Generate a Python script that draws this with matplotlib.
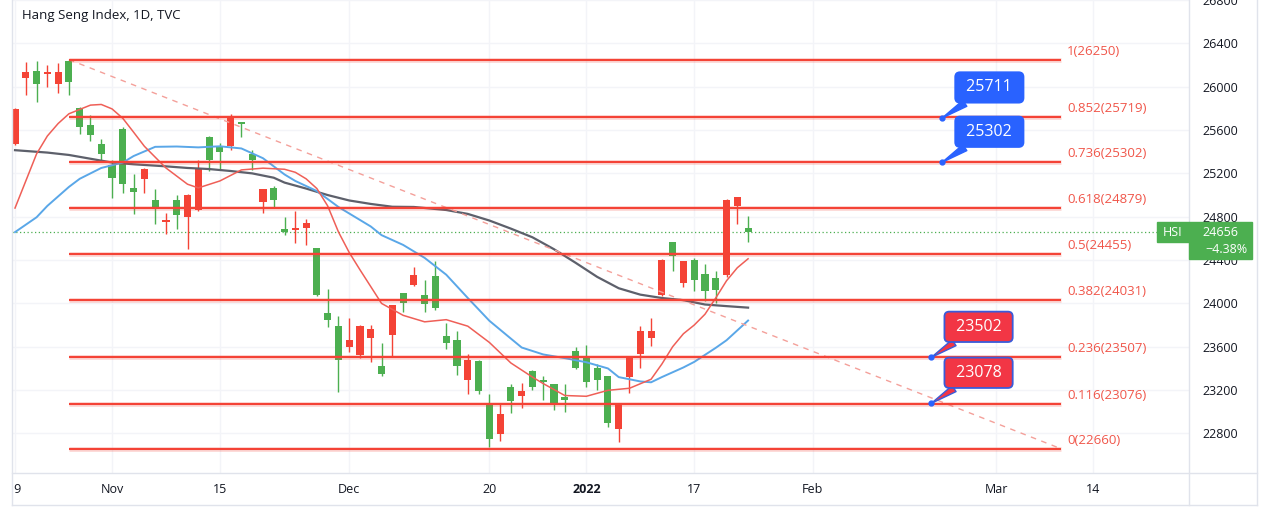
import numpy as np
import pandas as pd
import matplotlib
matplotlib.use('Agg')
import matplotlib.pyplot as plt
from matplotlib.patches import Rectangle
from matplotlib.lines import Line2D
from matplotlib.transforms import IdentityTransform, Bbox

plt.rcParams['font.family'] = ['Open Sans', 'DejaVu Sans']

# HK trading days (holidays taken out), candles run from 19 Oct 2021 to 24 Jan 2022
holidays = ['2021-12-27', '2022-02-01', '2022-02-02', '2022-02-03']
days = pd.bdate_range('2021-10-19', '2022-03-31')
days = days[~days.isin(pd.to_datetime(holidays))]

# daily OHLC
opens = [25475, 26078, 26146, 26121, 26023, 26241, 25802, 25650, 25472, 25273,
         25609, 25067, 25150, 24957, 24752, 24957, 24798, 24859, 25533, 25444,
         25457, 25674, 25380, 24937, 25062, 24690, 24681, 24699, 24510, 23912,
         23789, 23596, 23520, 23679, 23421, 23713, 24093, 24173, 24077, 24249,
         23697, 23658, 23290, 23467, 23081, 22794, 23228, 23143, 23376, 23290,
         23260, 23137, 23559, 23510, 23407, 23327, 22840, 23322, 23529, 23683,
         24078, 24568, 24188, 24400, 24276, 24234, 24262, 24899, 24694]
highs = [25800, 26225, 26241, 26201, 26216, 26250, 25810, 25742, 25517, 25328,
         25625, 25196, 25251, 25052, 24837, 25000, 25012, 25328, 25542, 25481,
         25747, 25674, 25420, 25060, 25083, 24800, 24853, 24777, 24510, 24133,
         23888, 23866, 23805, 23805, 23633, 23986, 24093, 24338, 24216, 24393,
         23817, 23750, 23529, 23474, 23161, 23081, 23253, 23265, 23388, 23327,
         23260, 23253, 23596, 23612, 23437, 23327, 23076, 23506, 23796, 23866,
         24410, 24568, 24390, 24418, 24363, 24295, 24960, 24982, 24807]
lows = [25465, 25926, 25855, 25993, 25940, 25919, 25563, 25496, 25328, 24975,
        25021, 24823, 25021, 24736, 24644, 24685, 24501, 24853, 25220, 25236,
        25420, 25533, 25227, 24834, 24878, 24630, 24562, 24540, 24069, 23780,
        23183, 23550, 23496, 23458, 23327, 23511, 23918, 24163, 23924, 23943,
        23575, 23336, 23168, 23168, 22671, 22732, 22990, 23039, 23198, 23106,
        23014, 22999, 23398, 23228, 23204, 22861, 22717, 23173, 23407, 23603,
        24070, 24301, 24154, 24117, 24019, 24001, 24240, 24736, 24571]
closes = [25793, 26140, 26023, 26133, 26140, 26041, 25628, 25558, 25380, 25159,
          25098, 25027, 25236, 24878, 24767, 24816, 24997, 25251, 25328, 25395,
          25726, 25655, 25322, 25060, 24954, 24660, 24694, 24745, 24081, 23851,
          23474, 23664, 23796, 23765, 23352, 23986, 24001, 24262, 23995, 23955,
          23636, 23419, 23480, 23192, 22748, 22975, 23100, 23189, 23229, 23274,
          23081, 23113, 23407, 23274, 23290, 22901, 23076, 23506, 23750, 23743,
          24402, 24433, 24390, 24219, 24117, 24126, 24954, 24982, 24656]

# moving averages, sampled by bar number
ma_red_days = [0, 1, 2, 3, 4, 5, 7, 8, 9, 10, 11, 12, 14, 16, 17, 19, 21, 23, 25, 26,
               27, 28, 29, 30, 31, 32, 34, 36, 38, 40, 42, 44, 46, 48, 49, 51, 53, 55,
               57, 59, 60, 61, 62, 63, 64, 65, 66, 67, 68]
ma_red = [24880, 25130, 25380, 25545, 25660, 25750, 25830, 25836, 25795, 25708,
          25580, 25450, 25250, 25100, 25066, 25130, 25232, 25248, 25238, 25210,
          25150, 25060, 24900, 24660, 24470, 24310, 24000, 23890, 23830, 23850,
          23790, 23640, 23450, 23320, 23260, 23150, 23143, 23198, 23217, 23300,
          23440, 23600, 23720, 23800, 23900, 24050, 24209, 24329, 24412]
ma_blue_days = [0, 2, 3, 5, 6, 8, 10, 11, 13, 15, 17, 19, 21, 23, 25, 26, 28, 30, 31,
                33, 34, 36, 38, 40, 42, 44, 46, 47, 49, 51, 53, 55, 56, 58, 59, 60,
                62, 63, 65, 66, 68]
ma_blue = [24658, 24795, 24900, 25075, 25150, 25250, 25300, 25360, 25445, 25448,
           25440, 25450, 25430, 25340, 25190, 25130, 25037, 24890, 24830, 24710,
           24630, 24540, 24420, 24265, 24050, 23840, 23675, 23593, 23529, 23495,
           23457, 23400, 23320, 23280, 23272, 23320, 23409, 23460, 23590, 23660,
           23842]
ma_gray_days = [0, 3, 5, 7, 9, 11, 14, 16, 18, 20, 22, 24, 25, 27, 29, 31, 33, 35, 37,
                40, 42, 44, 46, 48, 50, 52, 54, 56, 58, 60, 62, 64, 66, 68]
ma_gray = [25414, 25392, 25370, 25335, 25300, 25284, 25265, 25250, 25240, 25222,
           25200, 25160, 25115, 25060, 25000, 24950, 24918, 24892, 24890, 24862,
           24826, 24765, 24690, 24610, 24500, 24375, 24245, 24140, 24081, 24050,
           24030, 23990, 23975, 23961]

# fibonacci retracement drawn between the Oct high and a point in March
fib_ratios = ['1', '0.852', '0.736', '0.618', '0.5', '0.382', '0.236', '0.116', '0']
fib_prices = [26250, 25719, 25302, 24879, 24455, 24031, 23507, 23076, 22660]
fib_from, fib_to = '2021-10-26', '2022-03-09'

# price callouts
call_values = [25711, 25302, 23502, 23078]
call_dates = ['2022-02-22', '2022-02-22', '2022-02-21', '2022-02-21']
call_colors = ['#2962ff', '#2962ff', '#f23645', '#f23645']

last_price = 24656
last_change = '\u22124.38%'

tick_dates = ['2021-10-19', '2021-11-01', '2021-11-15', '2021-12-01', '2021-12-20',
              '2022-01-03', '2022-01-17', '2022-02-04', '2022-03-01', '2022-03-14']
tick_labels = ['19', 'Nov', '15', 'Dec', '20', '2022', '17', 'Feb', 'Mar', '14']

UP = '#f44336'
DOWN = '#4caf50'
FIB = '#f44336'
GRID = '#f3f4f8'
BORDER = '#e0e3eb'
TXT = '#131722'

W, H = 1269, 515
fig = plt.figure(figsize=(W / 100, H / 100), dpi=100)
fig.patch.set_facecolor('white')
ax = fig.add_axes([12 / W, (H - 473) / H, (1189 - 12) / W, 473 / H])
ax.set_xlim(-0.28, 108.9)
ax.set_ylim(22435, 26783)

pos = lambda d: days.get_loc(pd.Timestamp(d))

# grid
ax.set_yticks(np.arange(22800, 26801, 400))
ax.set_xticks([pos(d) for d in tick_dates])
ax.set_xticklabels(tick_labels)
ax.grid(True, color=GRID, lw=1)
ax.set_axisbelow(True)
for s in ax.spines.values():
    s.set_visible(False)
ax.yaxis.tick_right()
ax.tick_params(axis='y', length=0, pad=9.5, labelsize=9, labelcolor=TXT)
ax.tick_params(axis='x', length=0, pad=7, labelsize=9, labelcolor=TXT)
clip = Bbox.from_extents(12, 10, 1257, 515)
for lab in ax.get_xticklabels():
    lab.set_clip_on(True)
    lab.set_clip_box(clip)
    if lab.get_text() == '2022':
        lab.set_fontweight('bold')

# candles
x = np.arange(len(closes))
o = np.array(opens); c = np.array(closes)
cols = np.where(c >= o, UP, DOWN)
ax.vlines(x, lows, highs, colors=cols, lw=1, zorder=3)
body = np.maximum(np.abs(c - o), 14)
ax.bar(x, body, bottom=np.minimum(o, c), width=0.66, color=cols, lw=0, zorder=3)

# moving averages
ax.plot(ma_gray_days, ma_gray, color='#5d606b', lw=1.6, zorder=4)
ax.plot(ma_blue_days, ma_blue, color='#5aa7e8', lw=1.4, zorder=4)
ax.plot(ma_red_days, ma_red, color='#ef5f57', lw=1.1, zorder=4)

# last price line
ax.axhline(last_price, color=DOWN, lw=0.9, ls=(0, (1, 2)), zorder=2)

# fib levels + trend line
x0, x1 = pos(fib_from), pos(fib_to)
ax.plot([x0, x1], [fib_prices[0], fib_prices[-1]], color='#f4a09a', lw=1, ls=(0, (4, 4)), zorder=5)
ax.hlines(fib_prices, x0, x1, color=FIB, lw=3.4, alpha=0.22, zorder=5)
ax.hlines(fib_prices, x0, x1, color=FIB, lw=1.5, zorder=6)
for r, p in zip(fib_ratios, fib_prices):
    ax.annotate(f'{r}({p})', xy=(x1, p), xytext=(4.5, 6), textcoords='offset points',
                ha='left', va='center', fontsize=9.5, color='#f0564a', zorder=7)

# callouts
for v, d, col in zip(call_values, call_dates, call_colors):
    ec = '#2962ff' if col == '#2962ff' else '#3a5bd9'
    ax.annotate(f' {v} ', xy=(pos(d), v), xytext=(34, 22), textcoords='offset points',
                ha='center', va='center', fontsize=11.5, color='white', zorder=9,
                bbox=dict(boxstyle='round,pad=0.45,rounding_size=0.3', fc=col, ec=ec, lw=1.3),
                arrowprops=dict(arrowstyle='wedge,tail_width=0.45,shrink_factor=0.5',
                                fc=col, ec=ec, lw=1.0, shrinkA=0, shrinkB=0))
    ax.plot(pos(d), v, 'o', ms=3.5, color='#2962ff', zorder=10)

# title
ax.text(10 / 1177, 1 - 15 / 473, 'Hang Seng Index, 1D, TVC', transform=ax.transAxes,
        ha='left', va='center', fontsize=9.5, color=TXT)

# chart frame lines
I = IdentityTransform()
for xs, ys in [([12, 12], [10, H]), ([1189, 1189], [10, H]), ([1257, 1257], [10, H]),
               ([12, 1257], [10, 10]), ([12, 1257], [H - 473, H - 473])]:
    fig.add_artist(Line2D(xs, ys, transform=I, color=BORDER, lw=1, zorder=1))

# last price tag on the price scale
yc = ax.transData.transform((0, last_price))[1]
fig.add_artist(Rectangle((1157, yc - 10), 32, 20, transform=I, color=DOWN, zorder=20))
fig.add_artist(Rectangle((1189, yc - 27), 63, 37, transform=I, color=DOWN, zorder=20))
fig.text(1173, yc, 'HSI', transform=I, ha='center', va='center', fontsize=9, color='white', zorder=21)
fig.text(1202, yc, str(last_price), transform=I, ha='left', va='center', fontsize=9, color='white', zorder=21)
fig.text(1247, yc - 17.5, last_change, transform=I, ha='right', va='center', fontsize=9, color='white', zorder=21)

fig.savefig('out.png', dpi=100)
